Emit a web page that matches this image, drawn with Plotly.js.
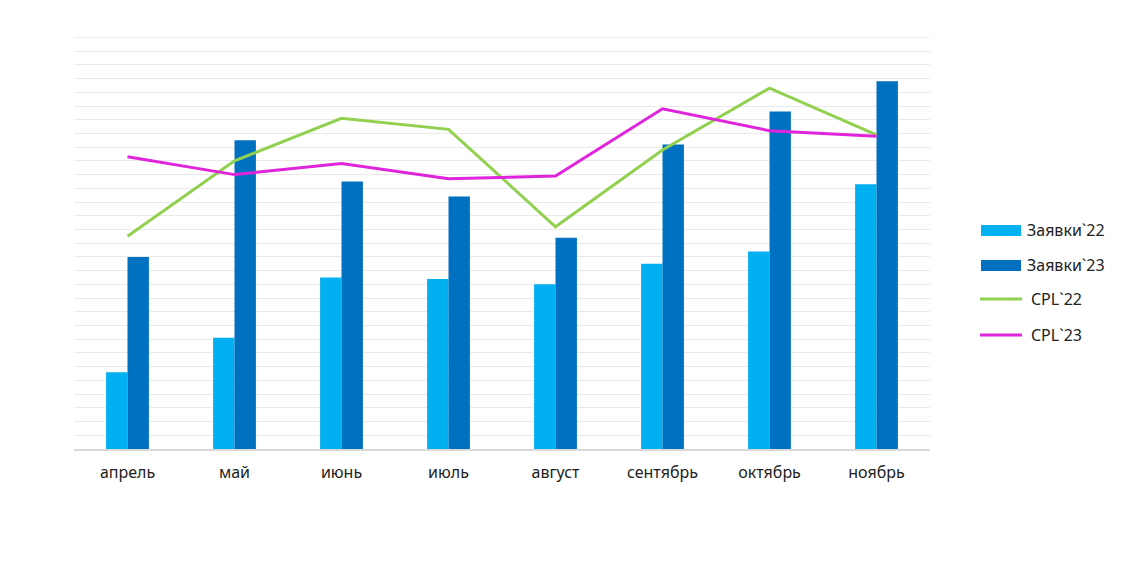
<!DOCTYPE html>
<html><head><meta charset="utf-8">
<script src="https://cdn.plot.ly/plotly-3.0.1.min.js"></script>
<style>html,body{margin:0;padding:0;background:#fff}#c{width:1126px;height:566px}</style>
</head><body><div id="c"></div>
<script>
var months = ["апрель","май","июнь","июль","август","сентябрь","октябрь","ноябрь"];
var zayavki22 = [5.6, 8.1, 12.5, 12.4, 12.0, 13.5, 14.4, 19.3];
var zayavki23 = [14.0, 22.5, 19.5, 18.4, 15.4, 22.2, 24.6, 26.8];
var cpl22 = [15.5, 21.0, 24.1, 23.3, 16.2, 21.8, 26.3, 22.9];
var cpl23 = [21.3, 20.0, 20.8, 19.7, 19.9, 24.8, 23.2, 22.8];
var names = ["Заявки`22","Заявки`23","CPL`22","CPL`23"];
var colors = ["#00B0F0","#0070C0","#92D050","#E024DC"];

var traces = [
  {type:"bar", x:months, y:zayavki22, name:names[0], marker:{color:colors[0]}},
  {type:"bar", x:months, y:zayavki23, name:names[1], marker:{color:colors[1]}},
  {type:"scatter", mode:"lines", x:months, y:cpl22, name:names[2], line:{color:colors[2], width:3}},
  {type:"scatter", mode:"lines", x:months, y:cpl23, name:names[3], line:{color:colors[3], width:3}}
];

var shapes = [
  {type:"line", xref:"paper", yref:"y", x0:0, x1:1, y0:30, y1:30, line:{color:"#e9e9e9", width:1}, layer:"below"},
  {type:"rect", xref:"paper", yref:"paper", x0:1.0596, x1:1.1063, y0:0.5170, y1:0.5437, fillcolor:colors[0], line:{width:0}},
  {type:"rect", xref:"paper", yref:"paper", x0:1.0596, x1:1.1063, y0:0.4321, y1:0.4588, fillcolor:colors[1], line:{width:0}},
  {type:"line", xref:"paper", yref:"paper", x0:1.0584, x1:1.1075, y0:0.3641, y1:0.3641, line:{color:colors[2], width:3}},
  {type:"line", xref:"paper", yref:"paper", x0:1.0584, x1:1.1075, y0:0.2767, y1:0.2767, line:{color:colors[3], width:3}}
];
var ys = [0.5320, 0.4470, 0.3641, 0.2767];
var xs = [1.1110, 1.1110, 1.1158, 1.1158];
var annotations = names.map(function(n,i){
  return {xref:"paper", yref:"paper", x:xs[i], y:ys[i], xanchor:"left", yanchor:"middle", text:n, showarrow:false,
    font:{family:"Noto Sans, Open Sans, sans-serif", size:16, color:"#222"}};
});

var layout = {
  width:1126, height:566,
  margin:{l:74, r:196, t:37, b:117},
  paper_bgcolor:"#fff", plot_bgcolor:"#fff",
  showlegend:false,
  barmode:"group", bargap:0.6, bargroupgap:0,
  xaxis:{showgrid:false, showline:true, linecolor:"#d9d9d9", linewidth:2, ticks:"", ticklabelstandoff:8,
    tickfont:{family:"Noto Sans, Open Sans, sans-serif", size:16, color:"#222"}, fixedrange:true},
  yaxis:{range:[0,30.03], dtick:1, showticklabels:false, showgrid:true, gridcolor:"#e9e9e9", gridwidth:1,
    zeroline:false, showline:false, ticks:"", fixedrange:true},
  shapes:shapes, annotations:annotations
};
Plotly.newPlot("c", traces, layout, {displayModeBar:false, staticPlot:true});
</script></body></html>
